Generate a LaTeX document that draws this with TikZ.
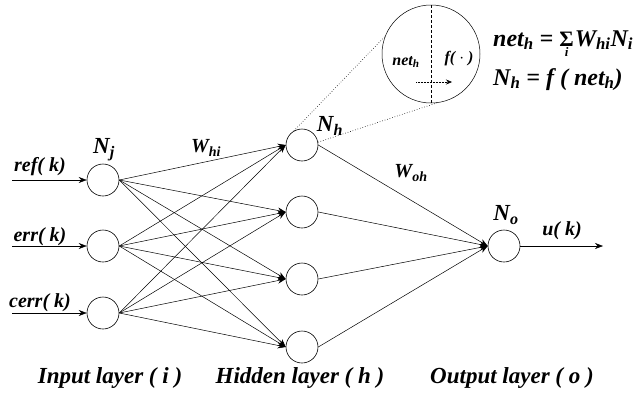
\documentclass[tikz,border=0pt]{standalone}
\usepackage{fontspec}
\setmainfont{Liberation Serif}
\usetikzlibrary{arrows.meta}
\newcommand{\bi}{\bfseries\itshape}
\newcommand{\bigsum}{\ensuremath{\mathop{\mbox{\fontsize{22}{24}\selectfont\normalfont\bfseries Σ}}\limits_{\mbox{\fontsize{13}{15}\selectfont\bi i}}}}
\begin{document}
\begin{tikzpicture}[x=1pt,y=-1pt,
  neuron/.style={circle,draw,line width=0.6pt,minimum size=32pt,inner sep=0pt},
  conn/.style={line width=0.5pt,-{Stealth[length=8pt,width=6pt]}},
  plain/.style={line width=0.5pt},
  lbl/.style={font=\fontsize{20}{22}\selectfont\bi,inner sep=0pt},
  laylbl/.style={font=\fontsize{23}{25}\selectfont\bi,inner sep=0pt},
  biglbl/.style={font=\fontsize{23}{25}\selectfont\bi,inner sep=0pt},
  eqlbl/.style={font=\fontsize{24}{26}\selectfont\bi,inner sep=0pt,anchor=base west},
  small/.style={font=\fontsize{16}{18}\selectfont\bi,inner sep=0pt}]
\useasboundingbox (0,0) rectangle (638,394);
% input layer
\node[neuron] (i1) at (103,180) {};
\node[neuron] (i2) at (103,246) {};
\node[neuron] (i3) at (103,313) {};
% hidden layer
\node[neuron] (h1) at (302,145) {};
\node[neuron] (h2) at (302,212) {};
\node[neuron] (h3) at (302,279) {};
\node[neuron] (h4) at (302,347) {};
% output
\node[neuron] (o) at (504,246) {};
% input arrows
\coordinate (a1) at (12,180);
\coordinate (a2) at (12,246);
\coordinate (a3) at (12,313);
\coordinate (uend) at (603,246);
\draw[conn] (a1) -- (i1.west);
\draw[conn] (a2) -- (i2.west);
\draw[conn] (a3) -- (i3.west);
\draw[conn] (o.east) -- (uend);
\foreach \i in {1,2,3}{
  \foreach \h in {1,2,3,4}{
    \draw[conn] (i\i.east) -- (h\h.west);
  }
}
\foreach \h in {1,2,3,4}{
  \draw[conn] (h\h.east) -- (o.west);
}
% labels
\node[lbl] (lref) at (40,167) {ref( k)};
\node[lbl] (lerr) at (40,237) {err( k)};
\node[lbl] (lcerr) at (40,303) {cerr( k)};
\node[biglbl] (lnj) at (104,150) {N\textsubscript{j}};
\node[lbl] (lwhi) at (206,148) {W\textsubscript{hi}};
\node[biglbl] (lnh) at (330,126) {N\textsubscript{h}};
\node[lbl] (lwoh) at (411,173) {W\textsubscript{oh}};
\node[biglbl] (lno) at (506,215) {N\textsubscript{o}};
\node[lbl] (luk) at (562,231) {u( k)};
\node[laylbl] (lin) at (110,378) {Input layer ( i )};
\node[laylbl] (lhid) at (300,378) {Hidden layer ( h )};
\node[laylbl] (lout) at (512,378) {Output layer ( o )};
% magnified neuron
\node[circle,draw,line width=0.5pt,minimum size=98pt,inner sep=0pt] (bigc) at (431,54) {};
\draw[plain,densely dashed] (bigc.north) -- (bigc.south);
\node[small] (lnet) at (406,62) {net\textsubscript{h}};
\node[small] (lf) at (459,59) {f( $\cdot$ )};
\coordinate (fa) at (416,82);
\coordinate (fb) at (452,82);
\draw[line width=0.5pt,densely dotted,-{Stealth[length=6pt,width=5pt]}] (fa) -- (fb);
\draw[line width=0.6pt,dotted] (h1.120) -- (bigc.159);
\draw[line width=0.6pt,dotted] (h1.10) -- (bigc.-83);
% formulas
\node[eqlbl] (eq1) at (493,46) {net\textsubscript{h} = \bigsum\kern1pt W\textsubscript{hi}N\textsubscript{i}};
\node[eqlbl] (eq2) at (493,85) {N\textsubscript{h} = f ( net\textsubscript{h})};
\end{tikzpicture}
\end{document}
